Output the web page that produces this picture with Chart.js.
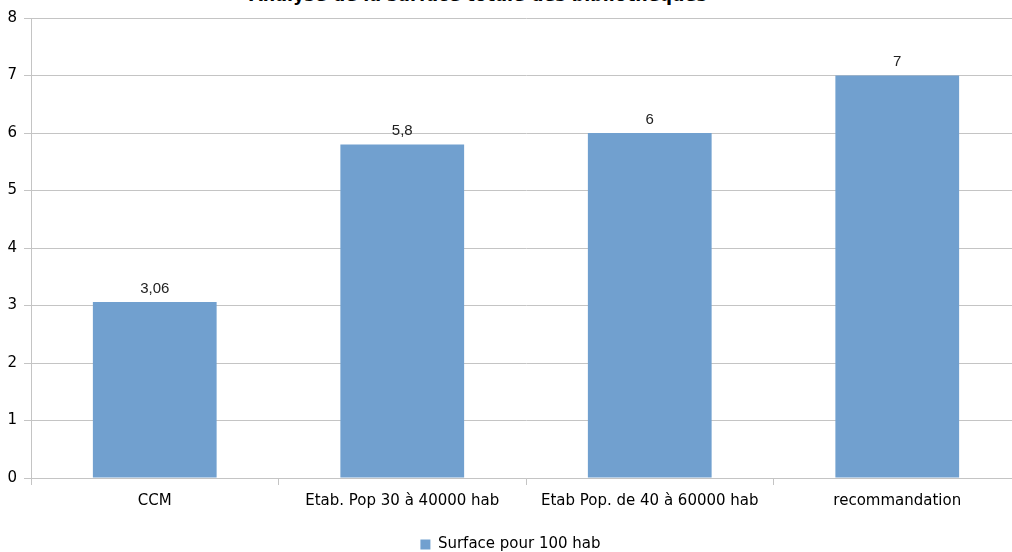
<!DOCTYPE html>
<html>
<head>
<meta charset="utf-8">
<script src="https://cdn.jsdelivr.net/npm/chart.js@4"></script>
<style>
    body { margin: 0; background: #fff; overflow: hidden; width: 1012px; height: 552px; position: relative; }
    #title {
        position: absolute; left: 0; width: 956px; top: -15px;
        text-align: center; font: bold 17.5px "DejaVu Sans", Verdana, sans-serif; color: #000;
    }
    #wrap { position: absolute; left: 0; top: 2px; width: 1030px; height: 560px; }
</style>
</head>
<body>
<div id="title">Analyse de la surface totale des bibliothèques</div>
<div id="wrap"><canvas id="chart"></canvas></div>
<script>

// ---------------- DATA ----------------

const categories = [
    "CCM",
    "Etab. Pop 30 à 40000 hab",
    "Etab Pop. de 40 à 60000 hab",
    "recommandation"
];

const surface = [3.06, 5.8, 6, 7];

const yTicks = [0, 1, 2, 3, 4, 5, 6, 7, 8];

const seriesName = "Surface pour 100 hab";

// ---------------- LABELS ON BARS ----------------

const barLabels = {
    id: "barLabels",
    afterDatasetsDraw(chart) {
        const ctx = chart.ctx;
        const meta = chart.getDatasetMeta(0);
        ctx.save();
        ctx.font = "15px 'Liberation Sans', Arial, sans-serif";
        ctx.fillStyle = "#222";
        ctx.textAlign = "center";
        ctx.textBaseline = "bottom";
        meta.data.forEach((bar, i) => {
            const txt = String(surface[i]).replace(".", ",");
            ctx.fillText(txt, bar.x, bar.y - 6);
        });
        ctx.restore();
    }
};

// ---------------- CHART ----------------

Chart.defaults.font.family = "'DejaVu Sans', Verdana, sans-serif";
Chart.defaults.font.size = 15;
Chart.defaults.color = "#000";

new Chart(document.getElementById("chart"), {
    type: "bar",
    data: {
        labels: categories,
        datasets: [{
            label: seriesName,
            data: surface,
            backgroundColor: "#71a0cf",
            categoryPercentage: 0.5,
            barPercentage: 1
        }]
    },
    plugins: [barLabels],
    options: {
        responsive: true,
        maintainAspectRatio: false,
        animation: false,
        layout: { padding: { top: 16, right: 9, left: 0, bottom: 0 } },
        plugins: {
            legend: {
                position: "bottom",
                labels: { boxWidth: 10, boxHeight: 10, padding: 12, color: "#000" }
            },
            tooltip: { enabled: false }
        },
        scales: {
            y: {
                min: 0,
                max: 8,
                afterBuildTicks: scale => { scale.ticks = yTicks.map(v => ({ value: v })); },
                afterFit: scale => { scale.width = 31; },
                ticks: { padding: 7, color: "#000" },
                grid: { color: "#c4c4c4", tickLength: 7, tickColor: "#c4c4c4" },
                border: { color: "#c4c4c4" }
            },
            x: {
                offset: true,
                afterFit: scale => { scale.height += 8; },
                ticks: { padding: 7, color: "#000", maxRotation: 0 },
                grid: { offset: true, drawOnChartArea: false, tickLength: 7, color: "#c4c4c4" },
                border: { color: "#c4c4c4" }
            }
        }
    }
});

</script>
</body>
</html>
